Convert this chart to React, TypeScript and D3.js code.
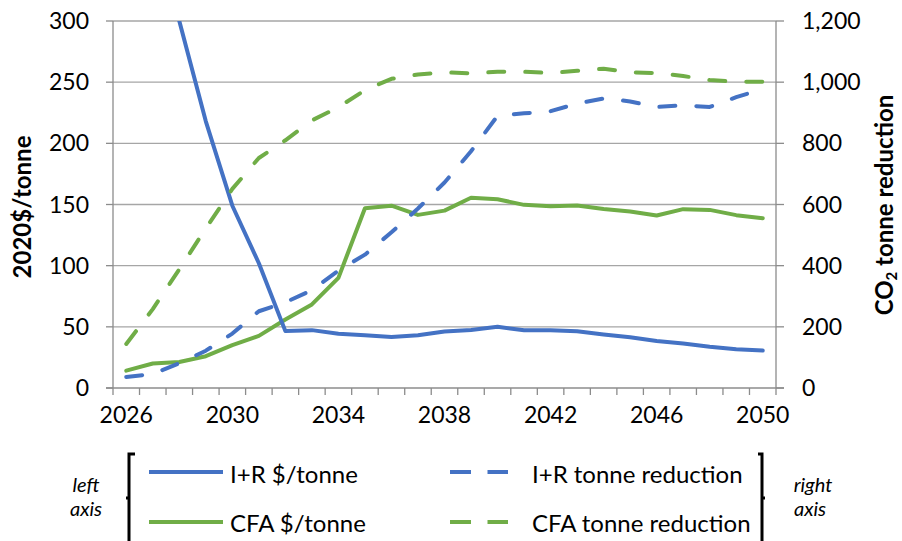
import React from "react";
import * as d3 from "d3";

const years = [2026, 2027, 2028, 2029, 2030, 2031, 2032, 2033, 2034, 2035, 2036, 2037, 2038, 2039, 2040, 2041, 2042, 2043, 2044, 2045, 2046, 2047, 2048, 2049, 2050];
const xTickLabels = [2026, 2030, 2034, 2038, 2042, 2046, 2050];
const leftTicks = [0, 50, 100, 150, 200, 250, 300];
const rightTicks = [0, 200, 400, 600, 800, 1000, 1200];

// left axis series ($/tonne)
const irCost = [560, 420, 300, 218, 149, 102, 46.5, 47.3, 44.3, 43.2, 41.7, 43.2, 46.2, 47.5, 50, 47.2, 47.2, 46.4, 43.8, 41.4, 38.4, 36.3, 33.7, 31.7, 30.6];
const cfaCost = [14.2, 20, 21.3, 26, 35, 42.6, 56, 68.3, 90, 147, 149, 141.5, 145, 155.5, 154.3, 149.7, 148.6, 149.2, 146.4, 144.3, 141, 146.2, 145.6, 141.3, 138.8];
// right axis series (tonne reduction)
const irReduction = [36, 46, 81, 122, 178, 251, 280, 320, 384, 436, 509, 587, 672, 774, 890, 898, 905, 930, 947, 937, 919, 924, 919, 951, 978];
const cfaReduction = [144, 258, 388, 522, 651, 752, 810, 875, 918, 974, 1011, 1025, 1032, 1029, 1034, 1034, 1030, 1037, 1044, 1032, 1030, 1020, 1007, 1001, 1001];

const BLUE = "#4472C4";
const GREEN = "#70AD47";
const GRID = "#a6a6a6";
const AXIS = "#8c8c8c";
const FONT = "Lato, 'Open Sans', sans-serif";

const W = 902, H = 541;
const L = 113, R = 776, T = 21, B = 388;

export default function App() {
  const x = d3.scaleBand<number>().domain(years).range([L, R]).padding(0);
  const cx = (yr: number) => (x(yr) as number) + x.bandwidth() / 2;
  const yL = d3.scaleLinear().domain([0, 300]).range([B, T]);
  const yR = d3.scaleLinear().domain([0, 1200]).range([B, T]);

  const lineL = d3.line<number>().x((_, i) => cx(years[i])).y((v) => yL(v));
  const lineR = d3.line<number>().x((_, i) => cx(years[i])).y((v) => yR(v));

  const boundaries = years.map((yr) => x(yr) as number).concat([R]);

  const dash = "16 21";

  return (
    <svg width={W} height={H} style={{ position: "absolute", left: 0, top: 0, background: "#fff" }} fontFamily={FONT}>
      <defs>
        <clipPath id="plot">
          <rect x={L} y={T} width={R - L} height={B - T} />
        </clipPath>
      </defs>
      {/* gridlines */}
      {leftTicks.filter((t) => t > 0).map((t) => (
        <line key={"g" + t} x1={L} x2={R} y1={yL(t)} y2={yL(t)} stroke={GRID} strokeWidth={1.3} />
      ))}
      {/* axes */}
      <line x1={L} x2={L} y1={T} y2={B} stroke={AXIS} strokeWidth={1.3} />
      <line x1={R} x2={R} y1={T} y2={B} stroke={AXIS} strokeWidth={1.3} />
      <line x1={L - 7} x2={R + 8} y1={B} y2={B} stroke={AXIS} strokeWidth={1.3} />
      {leftTicks.map((t) => (
        <line key={"lt" + t} x1={L - 7} x2={L} y1={yL(t)} y2={yL(t)} stroke={AXIS} strokeWidth={1.3} />
      ))}
      {rightTicks.map((t) => (
        <line key={"rt" + t} x1={R} x2={R + 8} y1={yR(t)} y2={yR(t)} stroke={AXIS} strokeWidth={1.3} />
      ))}
      {boundaries.map((bx, i) => (
        <line key={"bt" + i} x1={bx} x2={bx} y1={B} y2={B + 7} stroke={AXIS} strokeWidth={1.3} />
      ))}
      {/* tick labels */}
      {leftTicks.map((t) => (
        <text key={"ll" + t} x={89} y={yL(t)} dy="0.35em" textAnchor="end" fontSize={23} fill="#000">
          {d3.format(",")(t)}
        </text>
      ))}
      {rightTicks.map((t) => (
        <text key={"rl" + t} x={802} y={yR(t)} dy="0.35em" textAnchor="start" fontSize={23} fill="#000">
          {d3.format(",")(t)}
        </text>
      ))}
      {xTickLabels.map((yr) => (
        <text key={"xl" + yr} x={cx(yr)} y={423} textAnchor="middle" fontSize={23} fill="#000">
          {yr}
        </text>
      ))}
      {/* axis titles */}
      <text transform="translate(31,207) rotate(-90)" textAnchor="middle" fontSize={24} fontWeight="bold" fill="#000">
        2020$/tonne
      </text>
      <text transform="translate(893,205) rotate(-90)" textAnchor="middle" fontSize={24} fontWeight="bold" fill="#000">
        CO<tspan fontSize={15} dy={4}>2</tspan><tspan dy={-4}> tonne reduction</tspan>
      </text>
      {/* series */}
      <g clipPath="url(#plot)" fill="none" strokeWidth={4} strokeLinejoin="round">
        <path d={lineL(cfaCost) || ""} stroke={GREEN} strokeLinecap="round" />
        <path d={lineL(irCost) || ""} stroke={BLUE} strokeLinecap="round" />
        <path d={lineR(irReduction) || ""} stroke={BLUE} strokeDasharray={dash} strokeLinecap="round" />
        <path d={lineR(cfaReduction) || ""} stroke={GREEN} strokeDasharray={dash} strokeLinecap="round" />
      </g>
      {/* legend */}
      <g fill="#000">
        <text x={86} y={492} textAnchor="middle" fontSize={20} fontStyle="italic">left</text>
        <text x={86} y={516} textAnchor="middle" fontSize={20} fontStyle="italic">axis</text>
        <path d="M135,454 H129 V541 M129,498 H126" stroke="#000" strokeWidth={3} fill="none" />
        <line x1={149} x2={223} y1={472} y2={472} stroke={BLUE} strokeWidth={4} />
        <text x={230} y={483} fontSize={24}>I+R $/tonne</text>
        <line x1={149} x2={223} y1={522} y2={522} stroke={GREEN} strokeWidth={4} />
        <text x={230} y={532} fontSize={24}>CFA $/tonne</text>
        <line x1={450} x2={508} y1={472} y2={472} stroke={BLUE} strokeWidth={4} strokeDasharray="21 16.5" />
        <text x={532} y={483} fontSize={24}>I+R tonne reduction</text>
        <line x1={450} x2={508} y1={522} y2={522} stroke={GREEN} strokeWidth={4} strokeDasharray="21 16.5" />
        <text x={532} y={532} fontSize={24}>CFA tonne reduction</text>
        <path d="M758,454 H762 V541 M762,498 H765" stroke="#000" strokeWidth={3} fill="none" />
        <text x={813} y={492} textAnchor="middle" fontSize={20} fontStyle="italic">right</text>
        <text x={810} y={516} textAnchor="middle" fontSize={20} fontStyle="italic">axis</text>
      </g>
    </svg>
  );
}
